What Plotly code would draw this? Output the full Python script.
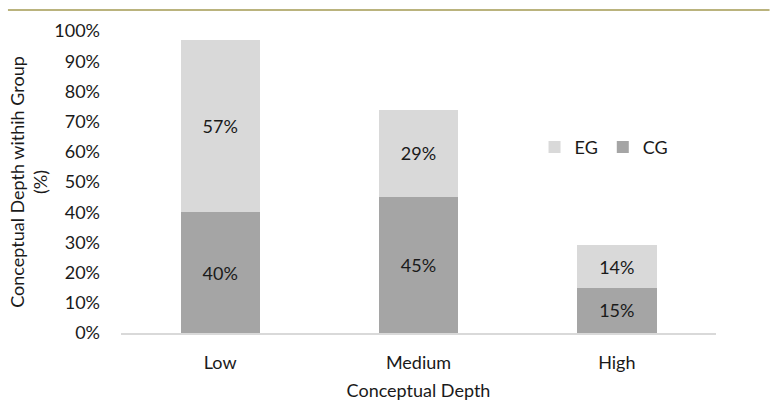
import plotly.graph_objects as go

categories = ["Low", "Medium", "High"]
cg_values = [40, 45, 15]
eg_values = [57, 29, 14]
tick_values = [0, 10, 20, 30, 40, 50, 60, 70, 80, 90, 100]
tick_labels = [f"{v}%" for v in tick_values]

FONT = "Lato, 'Open Sans', sans-serif"
TEXT_COLOR = "#1a1a1a"

fig = go.Figure()
fig.add_trace(go.Bar(
    x=categories, y=cg_values, name="CG",
    marker=dict(color="#a5a5a5", line=dict(width=0)),
    text=[f"{v}%" for v in cg_values], textposition="inside",
    insidetextanchor="middle",
    textfont=dict(family=FONT, size=18, color=TEXT_COLOR),
))
fig.add_trace(go.Bar(
    x=categories, y=eg_values, name="EG",
    marker=dict(color="#d9d9d9", line=dict(width=0)),
    text=[f"{v}%" for v in eg_values], textposition="inside",
    insidetextanchor="middle",
    textfont=dict(family=FONT, size=18, color=TEXT_COLOR),
))

fig.update_layout(
    barmode="stack",
    bargap=0.6,
    width=774, height=401,
    margin=dict(l=121, r=58, t=31, b=68, autoexpand=False),
    paper_bgcolor="white", plot_bgcolor="white",
    font=dict(family=FONT, size=18, color=TEXT_COLOR),
    uniformtext=dict(mode="show", minsize=18),
    legend=dict(
        orientation="h", x=0.695, y=0.615, xanchor="left", yanchor="middle",
        traceorder="reversed", font=dict(size=18),
        itemwidth=30, bgcolor="rgba(0,0,0,0)",
    ),
    xaxis=dict(
        showgrid=False, showline=True, linecolor="#d9d9d9", linewidth=1.5,
        ticks="", ticklabelstandoff=13, range=[-0.5, 2.5], automargin=False,
        title=dict(text="Conceptual Depth", standoff=24, font=dict(size=18)),
        tickfont=dict(size=18),
    ),
    yaxis=dict(
        range=[0, 100], tickvals=tick_values, ticktext=tick_labels,
        showgrid=False, zeroline=False, showline=False, ticks="",
        ticklabelstandoff=20, tickfont=dict(size=18), automargin=False,
        title=dict(text="Conceptual Depth withih Group<br>(%)", standoff=1,
                   font=dict(size=18)),
    ),
    shapes=[dict(
        type="line", xref="paper", yref="paper",
        x0=-0.19, x1=1.09, y0=1.0695, y1=1.0695,
        line=dict(color="#a39a52", width=1.5),
    )],
)

fig.write_html("out.html")
